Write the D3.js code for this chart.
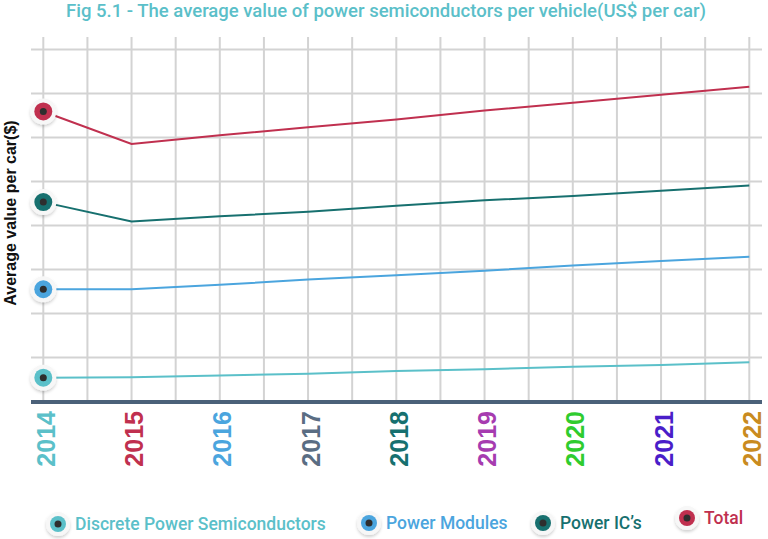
<!DOCTYPE html>
<html>
<head>
<meta charset="utf-8">
<script src="https://cdn.jsdelivr.net/npm/d3@7"></script>
<style>
  body { margin: 0; background: #fff; }
  svg { display: block; }
</style>
</head>
<body>
<div class="chartHolder"></div>
<script>
var years = [2014, 2015, 2016, 2017, 2018, 2019, 2020, 2021, 2022];
var yearColors = ["#5bc0c9", "#c0304f", "#4ba5de", "#5a6d83", "#17706f", "#a63cb0", "#2fcc2f", "#4a1ec9", "#c98b1f"];
var seriesNames = ["Discrete Power Semiconductors", "Power Modules", "Power IC\u2019s", "Total"];
var seriesColors = ["#5bc0c9", "#4ba5de", "#17706f", "#c0304f"];
var discrete = [26.5, 27, 29, 31, 34, 36, 39, 41, 44];
var modules = [127, 127, 132, 138, 143, 148, 154, 159, 164];
var powerICs = [226, 204, 210, 215, 222, 228, 233, 239, 245];
var total = [329, 292, 302, 311, 320, 330, 339, 348, 357];
var yTicks = [50, 100, 150, 200, 250, 300, 350, 400];

var series = [discrete, modules, powerICs, total];

var svgW = 768, svgH = 539;
var svg = d3.select(".chartHolder").append("svg").attr("width", svgW).attr("height", svgH);

var defs = svg.append("defs");
var f = defs.append("filter").attr("id", "halo").attr("x", "-50%").attr("y", "-50%").attr("width", "200%").attr("height", "200%");
f.append("feDropShadow").attr("dx", 0).attr("dy", 2).attr("stdDeviation", 1.5).attr("flood-color", "#000").attr("flood-opacity", 0.18);

var xScale = d3.scaleLinear().domain([2014, 2022]).range([43.3, 749.3]);
var yScale = d3.scaleLinear().domain([0, 400]).range([401, 49]);

// title
svg.append("text").attr("x", 386).attr("y", 17).attr("text-anchor", "middle")
  .attr("font-family", "Roboto").attr("font-weight", 500).attr("font-size", "18.5px")
  .attr("fill", "#5bbfc9").text("Fig 5.1 - The average value of power semiconductors per vehicle(US$ per car)");

// grid
var halfYears = d3.range(2014, 2022.01, 0.5);
svg.append("g").selectAll("line").data(halfYears).enter().append("line")
  .attr("x1", function (d) { return xScale(d); }).attr("x2", function (d) { return xScale(d); })
  .attr("y1", 37).attr("y2", yScale(0))
  .attr("stroke", "#d3d3d3").attr("stroke-width", 2);

var yAxis = d3.axisLeft(yScale).tickValues(yTicks).tickSize(-(762 - 31)).tickFormat("");
svg.append("g").attr("transform", "translate(31,0)").call(yAxis)
  .call(function (g) { g.select(".domain").remove(); })
  .call(function (g) { g.selectAll(".tick line").attr("stroke", "#d3d3d3").attr("stroke-width", 2); });

// x axis
var xAxis = d3.axisBottom(xScale).tickValues(years).tickSize(0).tickFormat(d3.format("d"));
var xg = svg.append("g").attr("transform", "translate(0," + yScale(0) + ")").call(xAxis);
xg.select(".domain").remove();
xg.append("line").attr("x1", 31).attr("x2", 762).attr("y1", 1).attr("y2", 1)
  .attr("stroke", "#4b6179").attr("stroke-width", 4);
xg.selectAll(".tick text")
  .attr("font-family", "Liberation Sans, Arial, sans-serif").attr("font-weight", "bold").attr("font-size", "25px")
  .attr("fill", function (d, i) { return yearColors[i]; })
  .attr("text-anchor", "end").attr("dy", null).attr("y", 0)
  .attr("transform", "translate(11,10) rotate(-90)");

// y label
svg.append("text").attr("transform", "translate(16,213) rotate(-90)").attr("text-anchor", "middle")
  .attr("font-family", "Liberation Sans, Arial, sans-serif").attr("font-weight", "bold").attr("font-size", "16px")
  .attr("fill", "#111").text("Average value per car($)");

// lines
var line = d3.line().x(function (d, i) { return xScale(years[i]); }).y(function (d) { return yScale(d); });
svg.append("g").selectAll("path").data(series).enter().append("path")
  .attr("d", line).attr("fill", "none")
  .attr("stroke", function (d, i) { return seriesColors[i]; }).attr("stroke-width", 2);

function marker(g, color, r) {
  g.append("circle").attr("r", r + 4).attr("fill", "#f7f7f7").attr("filter", "url(#halo)");
  g.append("circle").attr("r", r).attr("fill", color);
  g.append("circle").attr("r", 3.5).attr("fill", "#2e2e2e");
}

series.forEach(function (s, i) {
  var g = svg.append("g").attr("transform", "translate(" + xScale(years[0]) + "," + yScale(s[0]) + ")");
  marker(g, seriesColors[i], 9);
});

// legend
var legendX = [58, 369, 543, 687],
    legendY = [524, 523, 523, 518];
seriesNames.forEach(function (n, i) {
  var g = svg.append("g").attr("transform", "translate(" + legendX[i] + "," + legendY[i] + ")");
  marker(g, seriesColors[i], 8);
  g.append("text").attr("x", 17).attr("y", 6).attr("font-family", "Roboto").attr("font-weight", 500)
    .attr("font-size", "17.5px").attr("fill", seriesColors[i]).text(n);
});
</script>
</body>
</html>
